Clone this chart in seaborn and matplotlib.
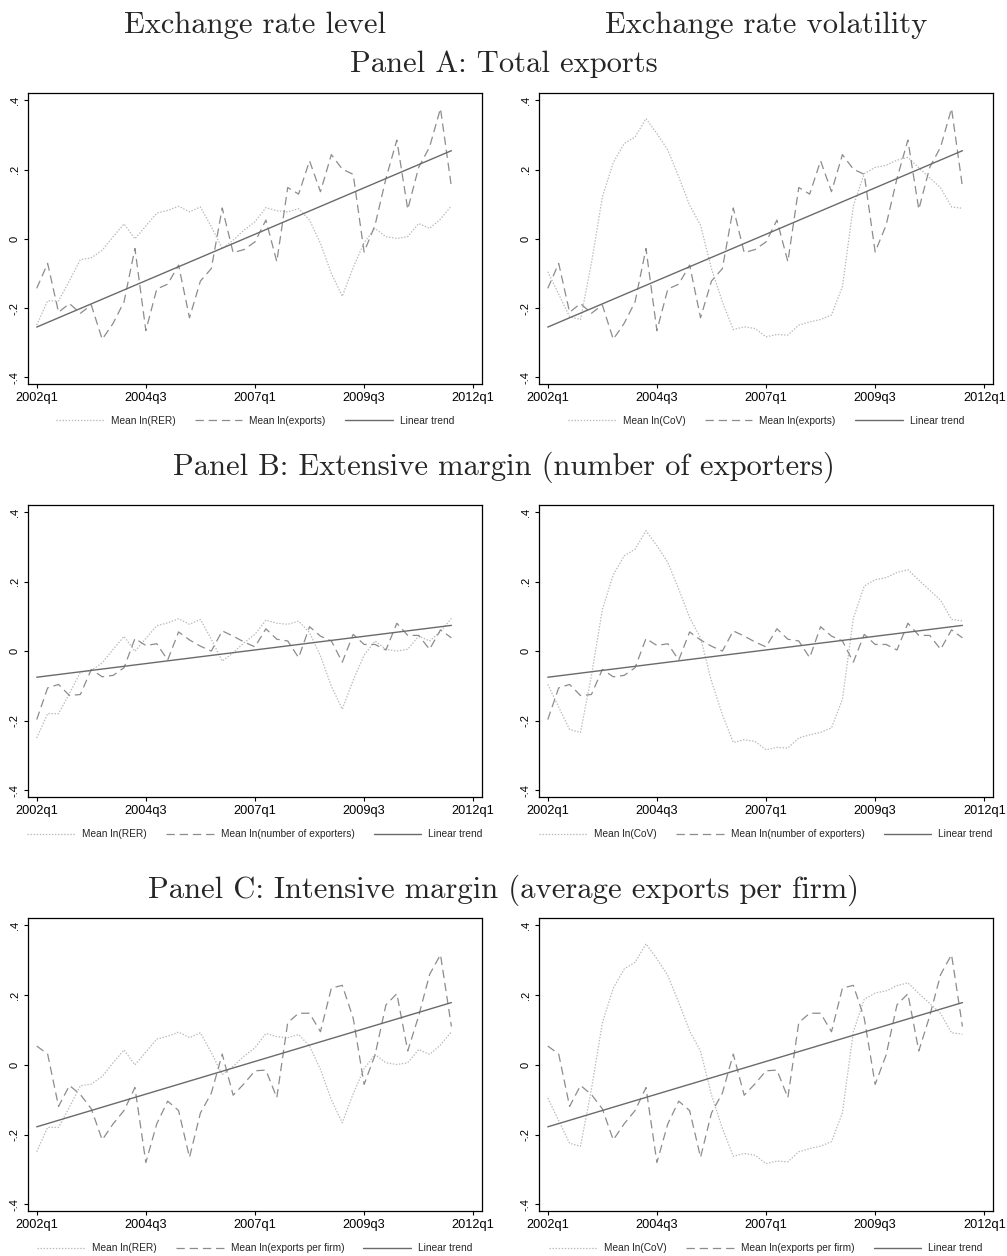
import numpy as np
import pandas as pd
import seaborn as sns
import matplotlib.pyplot as plt
from matplotlib.lines import Line2D

# quarters 2002q1 .. 2011q3
quarters = [f"{y}q{q}" for y in range(2002, 2012) for q in range(1, 5)][:39]
tick_pos = [0, 10, 20, 30, 40]
tick_labels = ["2002q1", "2004q3", "2007q1", "2009q3", "2012q1"]
ytick_pos = [-0.4, -0.2, 0, 0.2, 0.4]
ytick_labels = ["-.4", "-.2", "0", ".2", ".4"]

# mean ln(RER) (same in every left panel)
rer = [-0.249, -0.179, -0.179, -0.121, -0.060, -0.055, -0.033, 0.006, 0.043, 0.000,
       0.037, 0.074, 0.082, 0.094, 0.078, 0.092, 0.035, -0.028, -0.004, 0.025,
       0.049, 0.090, 0.081, 0.078, 0.087, 0.054, -0.013, -0.100, -0.166, -0.083,
       -0.011, 0.030, 0.006, 0.001, 0.006, 0.044, 0.030, 0.057, 0.095]

# mean ln(CoV) (same in every right panel)
cov = [-0.095, -0.160, -0.225, -0.233, -0.070, 0.120, 0.220, 0.275, 0.294, 0.347,
       0.304, 0.256, 0.179, 0.097, 0.039, -0.086, -0.182, -0.262, -0.254, -0.259,
       -0.283, -0.276, -0.278, -0.249, -0.240, -0.233, -0.220, -0.138, 0.095, 0.188,
       0.206, 0.212, 0.227, 0.235, 0.205, 0.176, 0.147, 0.092, 0.088]

# mean ln(exports)
exports = [-0.143, -0.071, -0.212, -0.187, -0.215, -0.191, -0.290, -0.244, -0.182, -0.028,
           -0.265, -0.145, -0.131, -0.076, -0.228, -0.122, -0.086, 0.089, -0.040, -0.031,
           -0.009, 0.054, -0.066, 0.148, 0.129, 0.225, 0.136, 0.243, 0.201, 0.186,
           -0.038, 0.039, 0.174, 0.285, 0.085, 0.206, 0.265, 0.376, 0.150]

# mean ln(number of exporters)
n_exporters = [-0.196, -0.105, -0.095, -0.127, -0.124, -0.052, -0.073, -0.069, -0.047, 0.037,
               0.017, 0.022, -0.025, 0.056, 0.033, 0.015, 0.001, 0.059, 0.044, 0.027,
               0.013, 0.065, 0.035, 0.030, -0.018, 0.071, 0.044, 0.030, -0.031, 0.049,
               0.020, 0.020, 0.004, 0.081, 0.046, 0.046, 0.006, 0.062, 0.039]

# mean ln(exports per firm)
exports_per_firm = [0.054, 0.031, -0.119, -0.059, -0.085, -0.126, -0.215, -0.169, -0.131, -0.065,
                    -0.280, -0.169, -0.104, -0.131, -0.265, -0.138, -0.081, 0.031, -0.087, -0.054,
                    -0.017, -0.015, -0.094, 0.121, 0.148, 0.148, 0.095, 0.220, 0.228, 0.134,
                    -0.056, 0.028, 0.172, 0.204, 0.040, 0.140, 0.259, 0.316, 0.110]

col_titles = ["Exchange rate level", "Exchange rate volatility"]
row_titles = ["Panel A: Total exports",
              "Panel B: Extensive margin (number of exporters)",
              "Panel C: Intensive margin (average exports per firm)"]
row_series = [exports, n_exporters, exports_per_firm]
row_labels = ["Mean ln(exports)", "Mean ln(number of exporters)", "Mean ln(exports per firm)"]
col_series = [rer, cov]
col_labels = ["Mean ln(RER)", "Mean ln(CoV)"]

sns.set_theme(style="ticks")
plt.rcParams["font.family"] = ["Liberation Sans", "DejaVu Sans"]
plt.rcParams["lines.scale_dashes"] = False
plt.rcParams["axes.unicode_minus"] = False

DOT = dict(color="#b8b8b8", lw=0.9, linestyle=(0, (1.0, 1.2)))
DASH = dict(color="#8c8c8c", lw=0.9, linestyle=(0, (6, 3.5)))
TREND = dict(color="#6a6a6a", lw=1.0)

x = np.arange(len(quarters))

fig = plt.figure(figsize=(10.07, 12.56), dpi=100)

lefts = [0.0278, 0.5353]
width = 0.4508
bottoms = [0.6943, 0.3654, 0.0358]
heights = [0.2317, 0.2325, 0.2333]

for r in range(3):
    for c in range(2):
        ax = fig.add_axes([lefts[c], bottoms[r], width, heights[r]])
        df = pd.DataFrame({"q": x, "bg": col_series[c], "y": row_series[r]})
        sns.lineplot(data=df, x="q", y="bg", ax=ax, **DOT)
        sns.lineplot(data=df, x="q", y="y", ax=ax, **DASH)
        sns.regplot(data=df, x="q", y="y", ax=ax, scatter=False, ci=None,
                    truncate=True, line_kws=TREND)

        ax.set_xlim(-0.8, 40.8)
        ax.set_ylim(-0.419, 0.421)
        ax.set_xticks(tick_pos)
        ax.set_xticklabels(tick_labels, fontsize=9.2)
        ax.set_yticks(ytick_pos)
        ax.set_yticklabels(ytick_labels, fontsize=8, rotation=90, va="center")
        ax.tick_params(direction="out", length=3, width=0.8, pad=3, colors="black")
        ax.set_xlabel("")
        ax.set_ylabel("")
        for s in ax.spines.values():
            s.set_visible(True)
            s.set_color("black")
            s.set_linewidth(0.9)

        handles = [Line2D([], [], **DOT), Line2D([], [], **DASH), Line2D([], [], **TREND)]
        labels = [col_labels[c], row_labels[r], "Linear trend"]
        ax.legend(handles, labels, loc="center", bbox_to_anchor=(0.5, -0.127),
                  ncol=3, frameon=False, fontsize=7.3, handlelength=4.7,
                  handletextpad=0.7, columnspacing=1.9)

# column headers and panel titles
H = 1256
fig.text(lefts[0] + width / 2, 1 - 33 / H, col_titles[0], ha="center", va="baseline",
         family="cmr10", fontsize=22)
fig.text(lefts[1] + width / 2, 1 - 33 / H, col_titles[1], ha="center", va="baseline",
         family="cmr10", fontsize=22)
for title, base in zip(row_titles, [72, 475, 898]):
    fig.text(0.5, 1 - base / H, title, ha="center", va="baseline",
             family="cmr10", fontsize=22)

plt.savefig("out.png", dpi=100)
